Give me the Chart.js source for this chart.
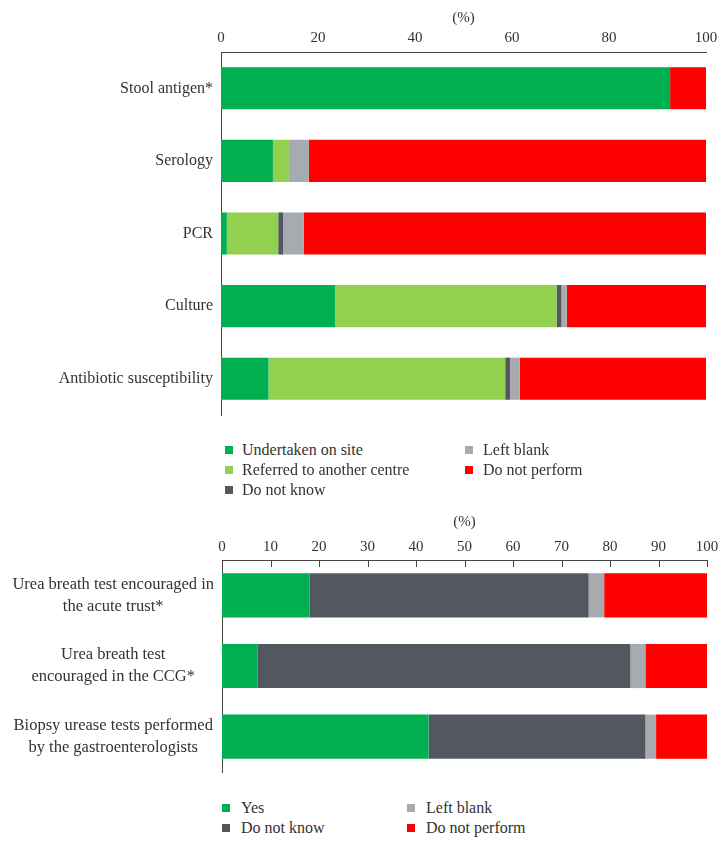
<!DOCTYPE html>
<html>
<head>
<meta charset="utf-8">
<script src="https://cdn.jsdelivr.net/npm/chart.js@4.4.0/dist/chart.umd.min.js"></script>
<style>
  body { margin: 0; background: #fff; }
  #wrap { position: relative; width: 728px; height: 848px; font-family: "Liberation Serif", serif; color: #333; }
  canvas { position: absolute; left: 0; }
  .leg { position: absolute; font-size: 16px; line-height: 20px; white-space: nowrap; }
  .leg span { position: absolute; width: 8px; height: 8px; top: 6px; }
</style>
</head>
<body>
<div id="wrap">
  <canvas id="top" width="728" height="423" style="top:0"></canvas>
  <canvas id="bottom" width="728" height="290" style="top:490px"></canvas>
</div>
<script>
// top chart: diagnostic tests
const testLabels = ['Stool antigen*', 'Serology', 'PCR', 'Culture', 'Antibiotic susceptibility'];
const onSite = [92.6, 10.7, 1.2, 23.5, 9.8];
const referred = [0, 3.3, 10.6, 45.7, 48.8];
const dontKnowTop = [0, 0, 1.0, 1.0, 1.0];
const blankTop = [0, 4.1, 4.3, 1.1, 2.0];
const notPerformTop = [7.4, 81.9, 82.9, 28.7, 38.4];

// bottom chart: urea tests
const ureaLabels = [
    ['Urea breath test encouraged in', 'the acute trust*'],
    ['Urea breath test', 'encouraged in the CCG*'],
    ['Biopsy urease tests performed', 'by the gastroenterologists'],
];
const yes = [18.1, 7.3, 42.6];
const dontKnowBottom = [57.5, 76.9, 44.7];
const blankBottom = [3.2, 3.1, 2.2];
const notPerformBottom = [21.2, 12.7, 10.5];

const topTicks = [0, 20, 40, 60, 80, 100];
const bottomTicks = [0, 10, 20, 30, 40, 50, 60, 70, 80, 90, 100];

const GREEN = '#00af50', LIGHT = '#92d050', DARK = '#525760', GREY = '#a7abb0', RED = '#ff0000';
const FONT = '"Liberation Serif", serif';
const TEXT = '#333';

function ds(label, data, color) {
    return { label: label, data: data, backgroundColor: color, borderWidth: 0 };
}

// little tick marks hanging under the top axis line
const innerTicks = {
    id: 'innerTicks',
    afterDraw(chart, args, opts) {
        if (!opts.show) return;
        const x = chart.scales.x;
        const ctx = chart.ctx;
        const y0 = chart.chartArea.top;
        ctx.save();
        ctx.strokeStyle = '#444';
        ctx.lineWidth = 1;
        x.ticks.forEach(t => {
            const px = Math.round(x.getPixelForValue(t.value)) + 0.5;
            ctx.beginPath();
            ctx.moveTo(px, y0);
            ctx.lineTo(px, y0 + 7);
            ctx.stroke();
        });
        ctx.restore();
    }
};

function makeChart(id, labels, datasets, o) {
    return new Chart(document.getElementById(id), {
        type: 'bar',
        data: { labels: labels, datasets: datasets },
        plugins: [innerTicks],
        options: {
            indexAxis: 'y',
            responsive: false,
            animation: { duration: 0 },
            layout: { padding: { left: 0, right: o.right, top: 0, bottom: o.bottom } },
            plugins: {
                legend: { display: false },
                tooltip: { enabled: false },
                innerTicks: { show: o.innerTicks },
            },
            scales: {
                x: {
                    position: 'top',
                    stacked: true,
                    min: 0,
                    max: 100,
                    afterBuildTicks: s => { s.ticks = o.ticks.map(v => ({ value: v })); },
                    afterFit: s => { s.height = o.axisH; s.paddingLeft = 0; s.paddingRight = 0; },
                    grid: { display: false, drawTicks: false },
                    border: { display: true, color: '#444', width: 1 },
                    ticks: { color: TEXT, font: { family: FONT, size: 15 }, padding: o.tickPad, maxRotation: 0 },
                    title: { display: true, text: '(%)', color: TEXT, font: { family: FONT, size: 15 }, padding: { top: o.titlePad, bottom: 0 } },
                },
                y: {
                    stacked: true,
                    afterFit: s => { s.width = o.yWidth; s.paddingTop = 0; s.paddingBottom = 0; },
                    grid: { display: false, drawTicks: false },
                    border: { display: true, color: '#444', width: 1 },
                    ticks: { color: TEXT, font: { family: FONT, size: o.labelSize, lineHeight: o.labelLH }, padding: 8, crossAlign: o.align },
                },
            },
            datasets: { bar: { categoryPercentage: 1, barPercentage: o.barFrac } },
        },
    });
}

makeChart('top', testLabels, [
    ds('Undertaken on site', onSite, GREEN),
    ds('Referred to another centre', referred, LIGHT),
    ds('Do not know', dontKnowTop, DARK),
    ds('Left blank', blankTop, GREY),
    ds('Do not perform', notPerformTop, RED),
], { ticks: topTicks, axisH: 52, titlePad: 9, tickPad: 5, barFrac: 0.58, yWidth: 221,
     innerTicks: false, right: 22, bottom: 8, align: 'near', labelSize: 16, labelLH: 1.2 });

makeChart('bottom', ureaLabels, [
    ds('Yes', yes, GREEN),
    ds('Do not know', dontKnowBottom, DARK),
    ds('Left blank', blankBottom, GREY),
    ds('Do not perform', notPerformBottom, RED),
], { ticks: bottomTicks, axisH: 70, titlePad: 23, tickPad: 4, barFrac: 0.625, yWidth: 222,
     innerTicks: true, right: 21, bottom: 8, align: 'center', labelSize: 16.5, labelLH: 1.35 });

// html legends laid out in two columns like the original
function legend(items, cols, rows) {
    const wrap = document.getElementById('wrap');
    items.forEach((it, i) => {
        const c = i < rows.length ? 0 : 1;
        const r = c === 0 ? i : i - rows.length;
        const d = document.createElement('div');
        d.className = 'leg';
        d.style.left = cols[c][1] + 'px';
        d.style.top = (rows[r] - 10) + 'px';
        d.textContent = it[0];
        const sq = document.createElement('span');
        sq.style.background = it[1];
        sq.style.left = (cols[c][0] - cols[c][1]) + 'px';
        d.appendChild(sq);
        wrap.appendChild(d);
    });
}

legend([
    ['Undertaken on site', GREEN], ['Referred to another centre', LIGHT], ['Do not know', DARK],
    ['Left blank', GREY], ['Do not perform', RED],
], [[225, 242], [465, 483]], [450, 470, 490]);

legend([
    ['Yes', GREEN], ['Do not know', DARK],
    ['Left blank', GREY], ['Do not perform', RED],
], [[222, 241], [407, 426]], [808, 828]);
</script>
</body>
</html>
